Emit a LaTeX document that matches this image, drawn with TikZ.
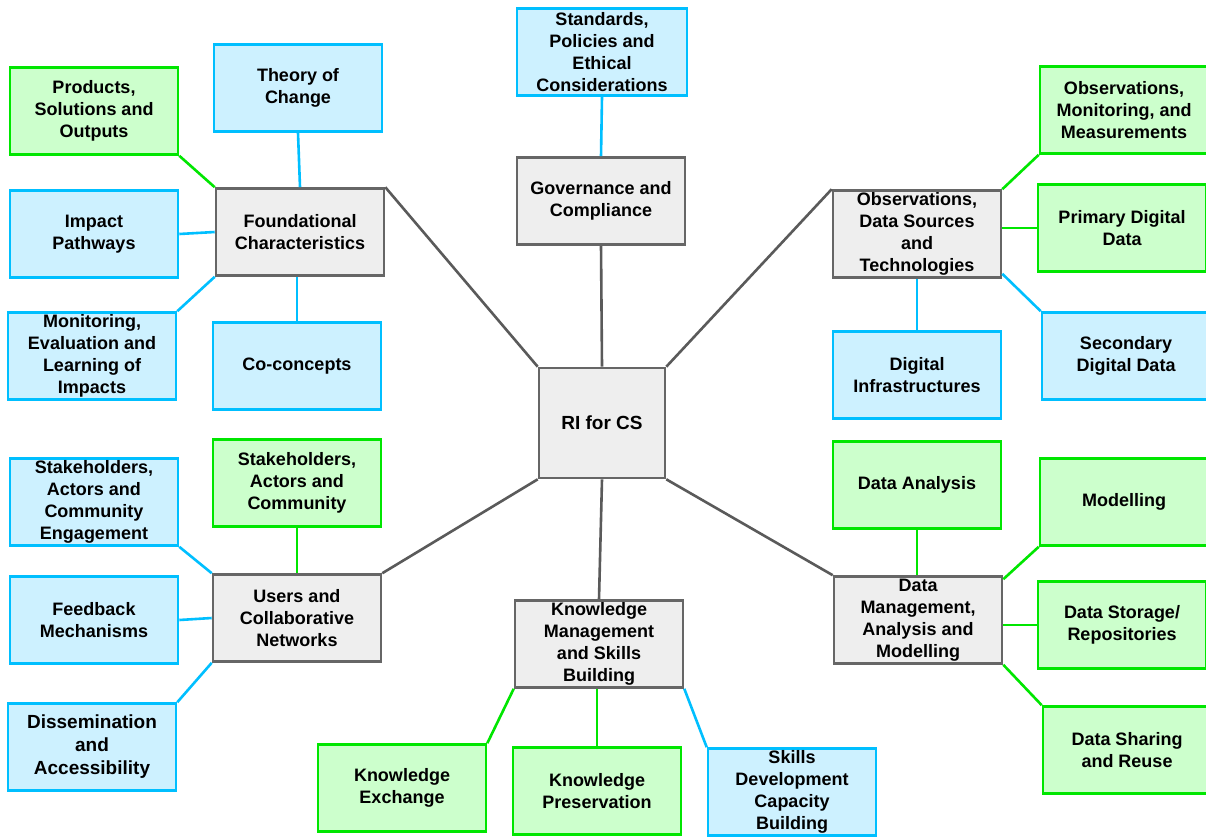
\documentclass[tikz,border=0pt]{standalone}
\usepackage{fontspec}
\setmainfont{Liberation Sans}
\definecolor{bluefill}{HTML}{CDF1FF}
\definecolor{blueline}{HTML}{00BFFF}
\definecolor{greenfill}{HTML}{CCFFCC}
\definecolor{greenline}{HTML}{00E600}
\definecolor{greyfill}{HTML}{EEEEEE}
\definecolor{greyline}{HTML}{666666}
\definecolor{hubline}{HTML}{5A5A5A}
\begin{document}
\begin{tikzpicture}[x=1pt,y=-1pt,
  box/.style={draw, line width=2.6pt, minimum width=168pt, minimum height=87pt,
    inner sep=0pt, align=center, font=\fontsize{18}{22}\selectfont\bfseries},
  bluebox/.style={box, draw=blueline, fill=bluefill},
  greenbox/.style={box, draw=greenline, fill=greenfill},
  greybox/.style={box, draw=greyline, fill=greyfill},
  hublink/.style={draw=hubline, line width=2.6pt},
  bluelink/.style={draw=blueline, line width=2.6pt},
  greenlink/.style={draw=greenline, line width=2.6pt}]
\useasboundingbox (0,0) rectangle (1206,836);
\fill[white] (0,0) rectangle (1206,836);

% hub
\node[greybox, minimum width=126pt, minimum height=110pt, font=\fontsize{19}{23}\selectfont\bfseries] (ri) at (602,423) {RI for CS};

% governance
\node[greybox] (gov) at (601,201) {Governance and\\Compliance};
\node[bluebox, minimum width=170pt] (std) at (602,52) {Standards,\\Policies and\\Ethical\\Considerations};

% foundational
\node[greybox] (found) at (300,232) {Foundational\\Characteristics};
\node[bluebox] (toc) at (298,88) {Theory of\\Change};
\node[greenbox] (prod) at (94,111) {Products,\\Solutions and\\Outputs};
\node[bluebox] (imp) at (94,234) {Impact\\Pathways};
\node[bluebox] (mon) at (92,356) {Monitoring,\\Evaluation and\\Learning of\\Impacts};
\node[bluebox] (coc) at (297,366) {Co-concepts};

% observations
\node[greybox] (obs) at (917,234) {Observations,\\Data Sources\\and\\Technologies};
\node[greenbox] (omm) at (1124,110) {Observations,\\Monitoring, and\\Measurements};
\node[greenbox] (pdd) at (1122,228) {Primary Digital\\Data};
\node[bluebox] (sdd) at (1126,356) {Secondary\\Digital Data};
\node[bluebox] (dinf) at (917,375) {Digital\\Infrastructures};

% data management
\node[greybox] (dm) at (918,620) {Data\\Management,\\Analysis and\\Modelling};
\node[greenbox] (da) at (917,485) {Data Analysis};
\node[greenbox] (mod) at (1124,502) {Modelling};
\node[greenbox] (dsr) at (1122,625) {Data Storage/\\Repositories};
\node[greenbox] (dsh) at (1127,750) {Data Sharing\\and Reuse};

% knowledge
\node[greybox] (km) at (599,644) {Knowledge\\Management\\and Skills\\Building};
\node[greenbox] (ke) at (402,788) {Knowledge\\Exchange};
\node[greenbox] (kp) at (597,791) {Knowledge\\Preservation};
\node[bluebox] (sk) at (792,792) {Skills\\Development\\Capacity\\Building};

% users
\node[greybox] (ucn) at (297,618) {Users and\\Collaborative\\Networks};
\node[greenbox] (stg) at (297,483) {Stakeholders,\\Actors and\\Community};
\node[bluebox] (stb) at (94,502) {Stakeholders,\\Actors and\\Community\\Engagement};
\node[bluebox] (fb) at (94,620) {Feedback\\Mechanisms};
\node[bluebox, font=\fontsize{19}{23}\selectfont\bfseries] (dis) at (92,747) {Dissemination\\and\\Accessibility};

% hub links
\path[hublink] (ri.north) -- (gov.south);
\path[hublink] (ri.north west) -- (found.north east);
\path[hublink] (ri.north east) -- (obs.north west);
\path[hublink] (ri.south west) -- (ucn.north east);
\path[hublink] (ri.south east) -- (dm.north west);
\path[hublink] (ri.south) -- (km.north);

% governance link
\path[bluelink] (std.south) -- (gov.north);

% foundational links
\path[bluelink] (toc.south) -- (found.north);
\path[greenlink] (prod.south east) -- (found.north west);
\path[bluelink] (imp.east) -- (found.west);
\path[bluelink] (mon.north east) -- (found.south west);
\path[bluelink] (coc.north) -- (coc.north |- found.south);

% observation links
\path[greenlink] (omm.south west) -- (obs.north east);
\path[greenlink] (pdd.west) -- (pdd.west -| obs.east);
\path[bluelink] (sdd.north west) -- ([yshift=5pt]obs.south east);
\path[bluelink] (dinf.north) -- (obs.south);

% data management links
\path[greenlink] (da.south) -- (da.south |- dm.north);
\path[greenlink] (mod.south west) -- ([yshift=-4pt]dm.north east);
\path[greenlink] (dsr.west) -- (dsr.west -| dm.east);
\path[greenlink] (dsh.north west) -- (dm.south east);

% knowledge links
\path[greenlink] (ke.north east) -- (km.south west);
\path[greenlink] (kp.north) -- (kp.north |- km.south);
\path[bluelink] (sk.north west) -- (km.south east);

% users links
\path[greenlink] (stg.south) -- (ucn.north);
\path[bluelink] (stb.south east) -- (ucn.north west);
\path[bluelink] (fb.east) -- (ucn.west);
\path[bluelink] (dis.north east) -- (ucn.south west);
\end{tikzpicture}
\end{document}
